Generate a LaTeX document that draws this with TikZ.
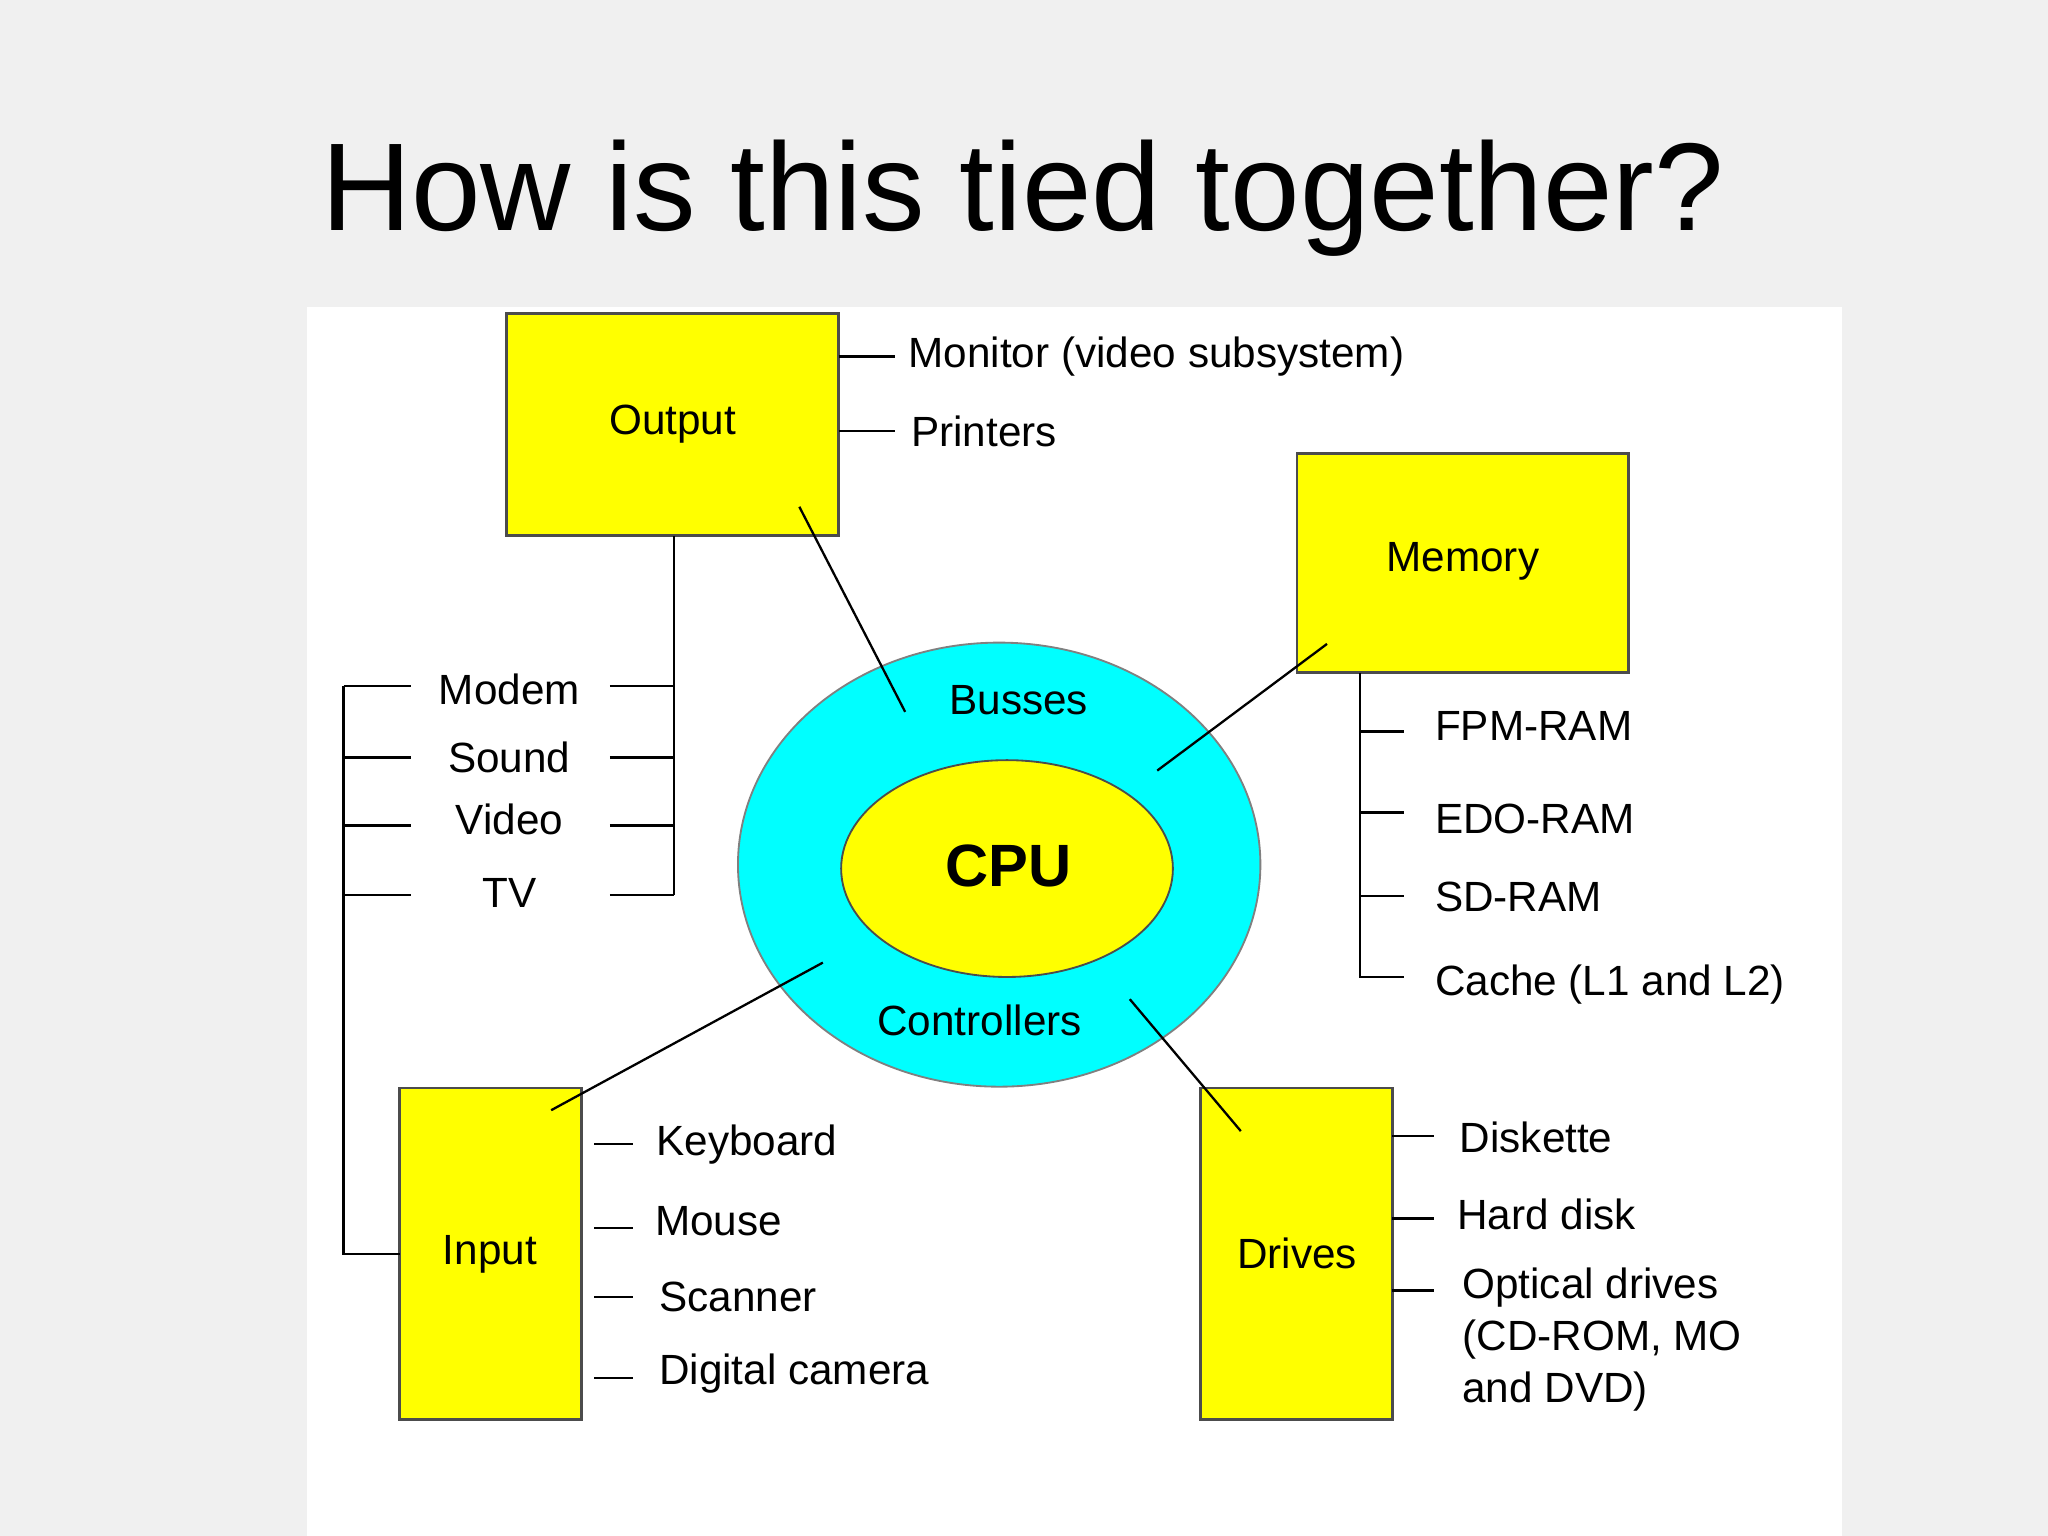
\documentclass[tikz,border=0pt]{standalone}
\usepackage{fontspec}
\setmainfont{Liberation Sans}
\definecolor{cy}{RGB}{0,255,255}
\definecolor{ye}{RGB}{255,255,0}
\begin{document}
\begin{tikzpicture}[x=0.01cm,y=-0.01cm,
  box/.style={draw=black!70,fill=ye,line width=0.6pt},
  lab/.style={font=\fontsize{9.2pt}{11pt}\selectfont,inner sep=0pt},
  ln/.style={black,line width=0.5pt}]
\useasboundingbox (0,0) rectangle (1568,1176);
\fill[black!6] (0,0) rectangle (1568,1176);
\fill[white] (235,235) rectangle (1410,1176);
\node[font=\fontsize{27.2pt}{31pt}\selectfont] (title) at (783,152) {How is this tied together?};
% boxes
\draw[box] (388,240) rectangle (642,410); \node[lab] (out) at (515,325) {Output};
\draw[box] (993,347) rectangle (1247,515); \node[lab] (mem) at (1120,430) {Memory};
\draw[box] (306,833) rectangle (445,1087); \node[lab] (inp) at (375,960) {Input};
\draw[box] (919,833) rectangle (1066,1087); \node[lab] (drv) at (993,960) {Drives};
% ellipses
\draw[draw=black!50,fill=cy] (765,662) ellipse [x radius=200,y radius=170];
\draw[draw=black!70,fill=ye] (771,665) ellipse [x radius=127,y radius=83];
\node[font=\fontsize{13pt}{15pt}\selectfont\bfseries] (cpu) at (772,663) {CPU};
\node[lab] (bus) at (780,536) {Busses};
\node[lab] (ctl) at (750,781) {Controllers};
% output
\draw[ln] (642,273) -- (685,273); \node[lab,anchor=west] (mon) at (695,273) {Monitor (video subsystem)};
\draw[ln] (642,330) -- (685,330); \node[lab,anchor=west] (prn) at (697,330) {Printers};
\draw[ln] (516,410) -- (516,685);
\foreach \y in {525,580,632,685} {\draw[ln] (467,\y) -- (516,\y); \draw[ln] (263,\y) -- (315,\y);}
\draw[ln] (263,525) -- (263,960) -- (306,960);
\node[lab] (modem) at (390,528) {Modem};
\node[lab] (sound) at (390,580) {Sound};
\node[lab] (video) at (390,627) {Video};
\node[lab] (tv) at (390,684) {TV};
\draw[ln] (612,388) -- (693,545);
% memory
\draw[ln] (1016,493) -- (886,590);
\draw[ln] (1041,515) -- (1041,748) -- (1075,748);
\foreach \y in {560,622,686} \draw[ln] (1041,\y) -- (1075,\y);
\node[lab,anchor=west] (fpm) at (1098,556) {FPM-RAM};
\node[lab,anchor=west] (edo) at (1098,627) {EDO-RAM};
\node[lab,anchor=west] (sd) at (1098,687) {SD-RAM};
\node[lab,anchor=west] (cache) at (1098,754) {Cache (L1 and L2)};
% input
\draw[ln] (422,850) -- (630,737);
\foreach \y in {876,940,993,1055} \draw[ln] (455,\y) -- (485,\y);
\node[lab,anchor=west] (kb) at (502,876) {Keyboard};
\node[lab,anchor=west] (ms) at (501,935) {Mouse};
\node[lab,anchor=west] (sc) at (504,993) {Scanner};
\node[lab,anchor=west] (dc) at (504,1052) {Digital camera};
% drives
\draw[ln] (865,765) -- (950,866);
\foreach \y in {870,933,988} \draw[ln] (1066,\y) -- (1098,\y);
\node[lab,anchor=west] (dk) at (1117,871) {Diskette};
\node[lab,anchor=west] (hd) at (1115,930) {Hard disk};
\node[lab,anchor=north west,align=left,font=\fontsize{9.2pt}{11.3pt}\selectfont] (od) at (1119,970) {Optical drives\\(CD-ROM, MO\\and DVD)};
\end{tikzpicture}
\end{document}
